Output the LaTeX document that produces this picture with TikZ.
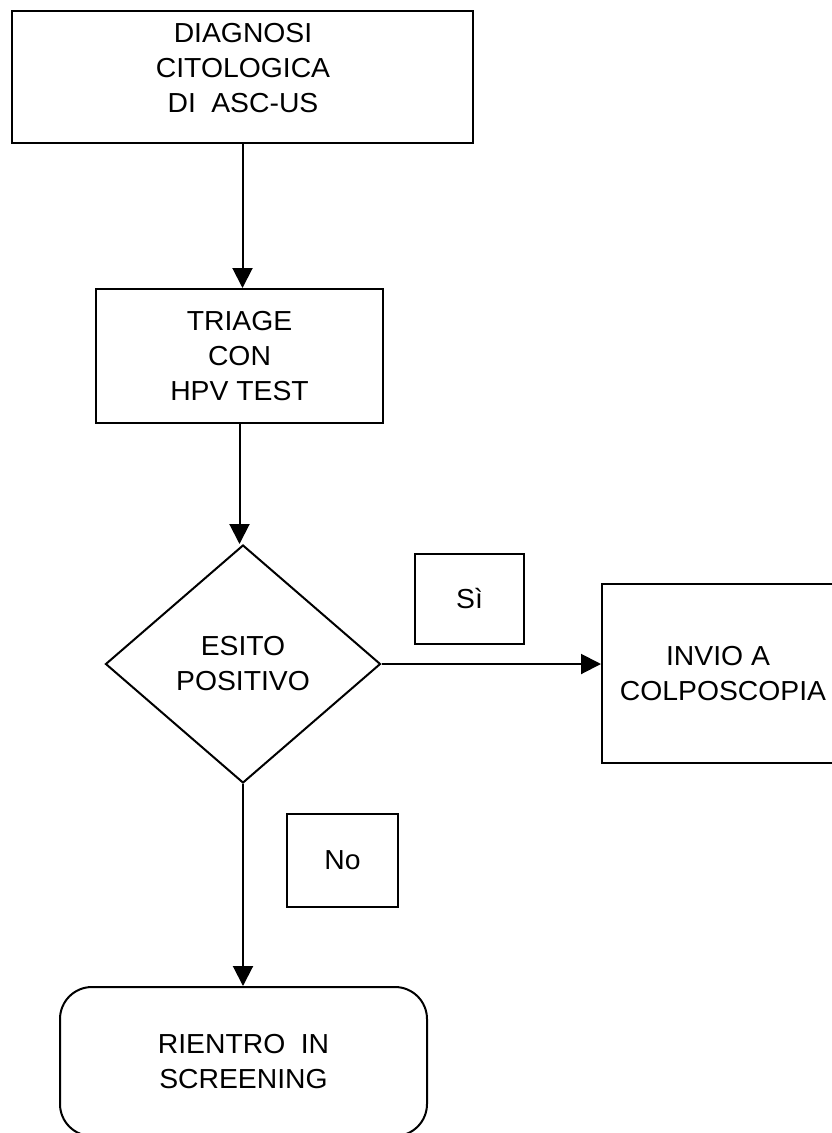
\documentclass[tikz,border=0pt]{standalone}
\usepackage{fontspec}
\setmainfont{Liberation Sans}[FakeStretch=1.03]
\usetikzlibrary{shapes.geometric,arrows.meta}
\begin{document}
\begin{tikzpicture}[x=1pt,y=1pt,
  every node/.style={font=\fontsize{27.5pt}{35pt}\selectfont, align=center},
  box/.style={draw, line width=2pt, rectangle, inner sep=0pt},
  rbox/.style={box, rounded corners=32pt},
  dec/.style={draw, line width=2pt, diamond, inner sep=0pt},
  txt/.style={inner sep=0pt},
  arr/.style={line width=2pt, -{Triangle[width=20pt,length=20pt]}},
  ln/.style={line width=2pt}]
\useasboundingbox (0,0) rectangle (832,-1133);
\clip (0,0) rectangle (832,-1133);
\fill[white] (0,0) rectangle (832,-1133);
% boxes
\node[box, minimum width=461pt, minimum height=132pt] (diag) at (242.5,-77) {};
\node[txt] (diagtxt) at (243,-68) {DIAGNOSI\\CITOLOGICA\\DI\hspace{0.56em}ASC-US};
\node[box, minimum width=287pt, minimum height=134pt] (triage) at (239.5,-356) {TRIAGE\\CON\\HPV TEST};
\node[dec, minimum width=275pt, minimum height=238pt] (dia) at (243,-664) {ESITO\\POSITIVO};
\node[box, minimum width=242pt, minimum height=179pt] (invio) at (723,-673.5) {INVIO A\hspace*{10pt}\\COLPOSCOPIA};
\node[box, minimum width=109pt, minimum height=90pt] (si) at (469.5,-599) {Sì};
\node[box, minimum width=111pt, minimum height=93pt] (no) at (342.5,-860.5) {No};
\node[rbox, minimum width=367pt, minimum height=149pt] (rientro) at (243.5,-1061.5) {RIENTRO\hspace{0.56em}IN\\SCREENING};
% connectors
\draw[arr] (diag.south) -- (diag.south |- triage.north);
\draw[arr] (triage.south) -- (triage.south |- dia.north);
\draw[arr] (dia.east) -- (invio.west |- dia.east);
\draw[arr] (dia.south) -- (dia.south |- rientro.north);
\end{tikzpicture}
\end{document}
